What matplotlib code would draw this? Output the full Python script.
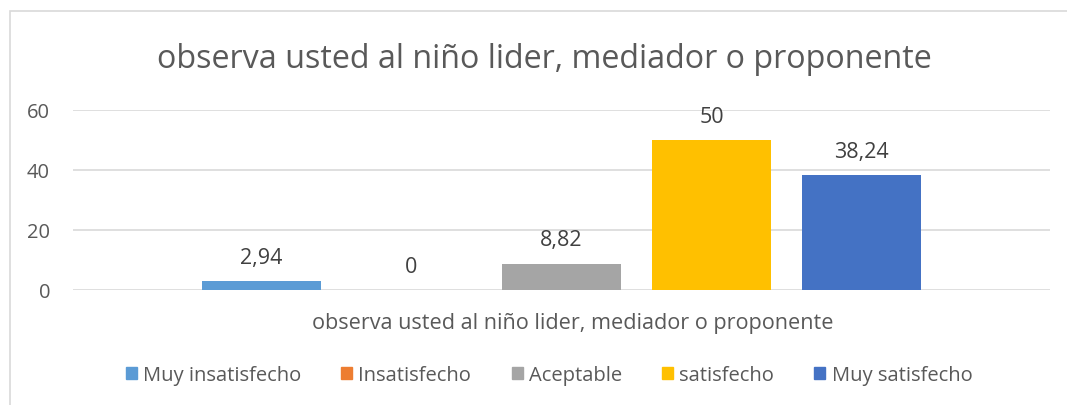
import matplotlib
matplotlib.use("Agg")
import matplotlib.pyplot as plt
from matplotlib.patches import Rectangle

plt.rcParams["font.family"] = ["Open Sans", "DejaVu Sans"]

TITLE = "observa usted al niño lider, mediador o proponente"
CATEGORY = "observa usted al niño lider, mediador o proponente"
SERIES = ["Muy insatisfecho", "Insatisfecho", "Aceptable", "satisfecho", "Muy satisfecho"]
VALUES = [2.94, 0, 8.82, 50, 38.24]
COLORS = ["#5B9BD5", "#ED7D31", "#A5A5A5", "#FFC000", "#4472C4"]
Y_TICKS = [0, 20, 40, 60]

TEXT = "#595959"
GRID = "#D9D9D9"
FS = 14.5

fig = plt.figure(figsize=(10.67, 4.06), dpi=100)
W, H = 1067, 406

# chart border (right and bottom edges run off the canvas)
fig.patches.append(Rectangle((10 / W, -0.05), 1.2, (406 - 12) / H + 0.05,
                             transform=fig.transFigure, fill=False,
                             edgecolor=GRID, linewidth=1.2))

ax = fig.add_axes([73 / W, (H - 291) / H, (1050 - 73) / W, (291 - 111) / H])

xs = list(range(len(VALUES)))
bars = ax.bar(xs, VALUES, width=0.793, color=COLORS, zorder=3)
for x, v in zip(xs, VALUES):
    label = f"{v:g}".replace(".", ",")
    ax.annotate(label, (x, v), xytext=(0, 17), textcoords="offset points",
                ha="center", va="center", fontsize=15.5, color="#404040")

ax.set_xlim(-1.257, 5.257)
ax.set_ylim(0, 60)
ax.set_yticks(Y_TICKS)
ax.set_xticks([])
ax.yaxis.grid(True, color=GRID, linewidth=1.2, zorder=0)
for s in ax.spines.values():
    s.set_visible(False)
ax.tick_params(axis="y", length=0, labelsize=FS, labelcolor=TEXT, pad=16.5)

fig.text(544 / W, 1 - 60 / H, TITLE, ha="center", va="center",
         fontsize=23.2, color=TEXT)
fig.text(573 / W, 1 - 324 / H, CATEGORY, ha="center", va="center",
         fontsize=15.6, color=TEXT)

handles = [Rectangle((0, 0), 1, 1, color=c) for c in COLORS]
fig.legend(handles, SERIES, loc="center", bbox_to_anchor=(549 / W, 1 - 376 / H),
           ncol=5, frameon=False, fontsize=FS, labelcolor=TEXT,
           handlelength=0.55, handleheight=0.55, handletextpad=0.3,
           columnspacing=2.0)

fig.savefig("out.png", dpi=100, facecolor="white")
